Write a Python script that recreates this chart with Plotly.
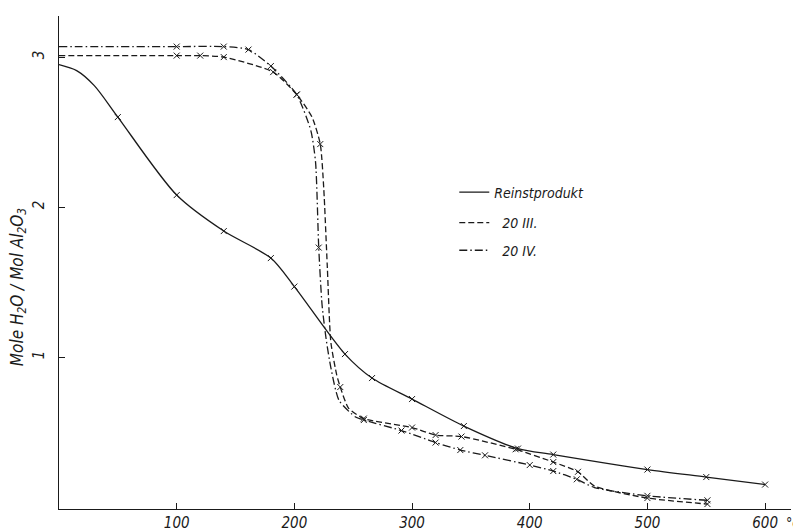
import plotly.graph_objects as go

# ---- data (temperature in °C, mol H2O / mol Al2O3) ----
rein_T = [0, 15, 30, 50, 100, 140, 180, 200, 243, 266, 300, 344, 390, 420, 500, 550, 600]
rein_V = [2.95, 2.91, 2.81, 2.60, 2.08, 1.84, 1.66, 1.47, 1.02, 0.86, 0.72, 0.54, 0.39, 0.35, 0.25, 0.20, 0.15]
rein_mark = [0, 0, 0, 1, 1, 1, 1, 1, 1, 1, 1, 1, 1, 1, 1, 1, 1]

s3_T = [0, 100, 120, 140, 182, 202, 215, 222, 225, 228, 231, 236, 239, 246, 259, 300, 320, 342, 388, 420, 441, 455, 500, 551]
s3_V = [3.01, 3.01, 3.01, 3.0, 2.90, 2.75, 2.6, 2.42, 2.12, 1.6, 1.1, 0.88, 0.80, 0.66, 0.59, 0.53, 0.48, 0.47, 0.385, 0.30, 0.235, 0.14, 0.06, 0.02]
s3_mark = [0, 1, 1, 1, 1, 1, 0, 1, 0, 0, 0, 0, 1, 0, 1, 1, 1, 1, 1, 1, 1, 0, 1, 1]

s4_T = [0, 100, 140, 161, 180, 202, 214, 218, 220.7, 223.5, 227, 231, 238, 252, 259, 291, 320, 341, 362, 400, 420, 440, 455, 500, 551]
s4_V = [3.07, 3.07, 3.07, 3.05, 2.94, 2.75, 2.51, 2.3, 1.73, 1.35, 1.12, 0.93, 0.71, 0.60, 0.58, 0.51, 0.43, 0.38, 0.345, 0.28, 0.24, 0.185, 0.13, 0.075, 0.045]
s4_mark = [0, 1, 1, 1, 1, 1, 0, 0, 1, 0, 0, 0, 0, 0, 1, 1, 1, 1, 1, 1, 1, 1, 0, 1, 1]

x_ticks = [100, 200, 300, 400, 500, 600]
y_ticks = [1, 2, 3]
series_names = ["Reinstprodukt", "\u00a0\u00a020 III.", "\u00a0\u00a020 IV."]

FONT = "DejaVu Sans Condensed"
INK = "#1a1a1a"

series = [
    (rein_T, rein_V, rein_mark, "solid", 0.8, series_names[0]),
    (s3_T, s3_V, s3_mark, "6px,3px", 0.6, series_names[1]),
    (s4_T, s4_V, s4_mark, "8px,3px,1.5px,3px", 0.6, series_names[2]),
]

fig = go.Figure()
for i, (T, V, M, dash, sm, name) in enumerate(series):
    fig.add_trace(go.Scatter(
        x=T, y=V, mode="lines", line=dict(color=INK, width=1.3, dash=dash, shape="spline", smoothing=sm),
        showlegend=False, hoverinfo="skip"))
    mt = [t for t, m in zip(T, M) if m]
    mv = [v for v, m in zip(V, M) if m]
    fig.add_trace(go.Scatter(
        x=mt, y=mv, mode="markers",
        marker=dict(symbol="x-thin", size=6, line=dict(width=1, color=INK), color=INK),
        showlegend=False))
    lg = "legend" if i == 0 else f"legend{i+1}"
    fig.add_trace(go.Scatter(
        x=[None], y=[None], mode="lines", name=name,
        line=dict(color=INK, width=1.3, dash=dash), legend=lg))

legend_common = dict(bgcolor="rgba(0,0,0,0)", font=dict(family=FONT, size=14, color=INK, style="italic"),
                     xanchor="left", yanchor="middle", itemwidth=30, tracegroupgap=0)

tickfont = dict(family=FONT, size=15, color=INK, style="italic")

fig.update_layout(
    width=801, height=532,
    margin=dict(l=51, r=18, t=8, b=26),
    paper_bgcolor="white", plot_bgcolor="white",
    font=dict(family=FONT, size=14, color=INK, style="italic"),
    legend=dict(x=0.54, y=0.642, **legend_common),
    legend2=dict(x=0.54, y=0.580, **legend_common),
    legend3=dict(x=0.54, y=0.524, **legend_common),
    xaxis=dict(range=[0, 622], tickvals=x_ticks, ticktext=[str(v) for v in x_ticks],
               showgrid=False, zeroline=False, showline=True, linecolor=INK, linewidth=1.2,
               ticks="inside", ticklen=6, tickcolor=INK, tickwidth=1,
               tickfont=tickfont),
    yaxis=dict(range=[-0.013, 3.274], tickvals=y_ticks, ticktext=[str(v) for v in y_ticks],
               showgrid=False, zeroline=False, showline=True, linecolor=INK, linewidth=1.2,
               ticks="outside", ticklen=8, tickcolor="rgba(0,0,0,0)", tickangle=-90,
               minor=dict(tickvals=y_ticks, ticks="inside", ticklen=6, tickcolor=INK, tickwidth=1,
                          showgrid=False),
               tickfont=tickfont),
    annotations=[
        dict(text="Mole H<sub>2</sub>O / Mol Al<sub>2</sub>O<sub>3</sub>", textangle=-90,
             xref="paper", yref="paper", x=-0.056, y=0.45, xanchor="center", yanchor="middle",
             showarrow=False, font=dict(family=FONT, size=17, color=INK, style="italic")),
        dict(text="°C", xref="paper", yref="paper", x=1.017, y=-0.028, xanchor="right", yanchor="middle",
             showarrow=False, font=dict(family=FONT, size=14, color=INK, style="italic")),
    ],
)

fig.write_html("out.html")
